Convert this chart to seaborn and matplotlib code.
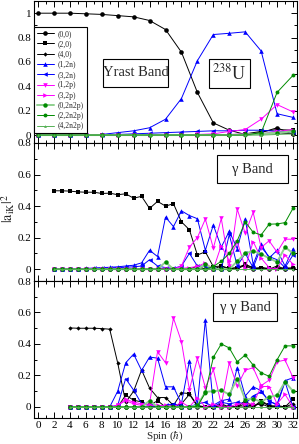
import numpy as np
import pandas as pd
import matplotlib
matplotlib.use("Agg")
import matplotlib.pyplot as plt
import seaborn as sns
from matplotlib.ticker import MultipleLocator, FuncFormatter
from matplotlib.patches import Rectangle

# ---------------- data ----------------
series_names = ["(0,0)", "(2,0)", "(4,0)", "(1,2n)", "(3,2n)",
                "(1,2p)", "(3,2p)", "(0,2n2p)", "(2,2n2p)", "(4,2n2p)"]

# Yrast band, spins 0..32 step 2
spin_yrast = list(range(0, 33, 2))
yr_00 = [1.0, 1.0, 1.0, 0.995, 0.99, 0.98, 0.97, 0.94, 0.866, 0.68, 0.35, 0.10, 0.04, 0.005, 0.02, 0.06, 0.005]
yr_20 = [0, 0, 0, 0, 0, 0, 0, 0, 0, 0, 0, 0, 0.0, 0.01, 0.03, 0.045, 0.04]
yr_40 = [0, 0, 0, 0, 0, 0, 0, 0, 0, 0, 0, 0, 0, 0.0, 0.01, 0.02, 0.01]
yr_12n = [0, 0, 0, 0.002, 0.005, 0.02, 0.035, 0.06, 0.13, 0.30, 0.61, 0.825, 0.835, 0.847, 0.69, 0.175, 0.145]
yr_32n = [0, 0, 0, 0, 0.002, 0.005, 0.01, 0.015, 0.02, 0.025, 0.03, 0.035, 0.035, 0.04, 0.04, 0.03, 0.025]
yr_12p = [0, 0, 0, 0, 0, 0, 0, 0, 0, 0, 0.005, 0.01, 0.03, 0.045, 0.13, 0.25, 0.19]
yr_32p = [0, 0, 0, 0, 0, 0, 0, 0, 0, 0, 0, 0, 0.005, 0.01, 0.01, 0.03, 0.045]
yr_02n2p = [0, 0, 0, 0, 0, 0, 0, 0, 0, 0, 0, 0, 0, 0.005, 0.01, 0.02, 0.03]
yr_22n2p = [0, 0, 0, 0, 0, 0, 0, 0, 0, 0, 0, 0, 0, 0, 0.02, 0.35, 0.49]
yr_42n2p = [0, 0, 0, 0, 0, 0, 0, 0, 0, 0, 0, 0, 0, 0, 0, 0.005, 0.01]

# gamma band, spins 2..32
spin_gamma = list(range(2, 33))
g_00 = [0]*22 + [0.0, 0.01, 0.02, 0.0, 0.01, 0.0, 0.005, 0.0, 0.01]
g_20 = [0.497, 0.497, 0.495, 0.49, 0.488, 0.488, 0.48, 0.482, 0.472, 0.478, 0.45, 0.462, 0.385,
        0.43, 0.40, 0.415, 0.30, 0.25, 0.09, 0.11, 0.016, 0.02, 0.005, 0.01, 0.03, 0.005, 0.01,
        0.005, 0.0, 0.01, 0.005]
g_40 = [0]*18 + [0.02, 0.0, 0.0, 0.02, 0.0, 0.0, 0.03, 0.01, 0.0, 0.0, 0.02, 0.0, 0.0]
g_12n = [0, 0, 0.002, 0.003, 0.005, 0.007, 0.01, 0.012, 0.015, 0.02, 0.025, 0.04, 0.12, 0.08,
         0.33, 0.27, 0.37, 0.34, 0.32, 0.12, 0.28, 0.14, 0.24, 0.13, 0.32, 0.03, 0.16, 0.07,
         0.12, 0.02, 0.13]
g_32n = [0, 0, 0, 0.002, 0.003, 0.005, 0.006, 0.008, 0.01, 0.012, 0.015, 0.02, 0.06, 0.02,
         0.01, 0.005, 0.02, 0.10, 0.02, 0.02, 0.0, 0.0, 0.22, 0.02, 0.10, 0.01, 0.14, 0.08,
         0.06, 0.01, 0.09]
g_12p = [0]*16 + [0.02, 0.14, 0.2, 0.318, 0.133, 0.322, 0.017, 0.38, 0.228, 0.36, 0.137,
                  0.18, 0.108, 0.19, 0.19]
g_32p = [0]*16 + [0.005, 0.01, 0.017, 0.04, 0.0, 0.15, 0.05, 0.175, 0.01, 0.175, 0.07,
                  0.01, 0.0, 0.09, 0.03]
g_02n2p = [0]*14 + [0.045, 0.0, 0.0, 0.0, 0.0, 0.03, 0.0, 0.0, 0.0, 0.05, 0.10, 0.116,
                    0.095, 0.07, 0.045, 0.14, 0.10]
g_22n2p = [0]*20 + [0.017, 0.05, 0.10, 0.18, 0.30, 0.234, 0.217, 0.285, 0.287, 0.295, 0.386]
g_42n2p = [0]*31

# gamma-gamma band, spins 4..32
spin_gg = list(range(4, 33))
gg_00 = [0]*22 + [0.0, 0.01, 0.02, 0.0, 0.01, 0.0, 0.0]
gg_20 = [0, 0, 0, 0, 0, 0, 0, 0.075, 0.043, 0.032, 0.01, 0.04, 0.0, 0.01, 0.02, 0.08, 0.005,
         0.0, 0.0, 0.01, 0.0, 0.0, 0.02, 0.0, 0.04, 0.01, 0.0, 0.0, 0.05]
gg_40 = [0.502, 0.5, 0.5, 0.5, 0.498, 0.494, 0.28, 0.03, 0.10, 0.235, 0.12, 0.06, 0.06, 0.01,
         0.09, 0.085, 0.01, 0.0, 0.0, 0.02, 0.0, 0.0, 0.04, 0.0, 0.03, 0.01, 0.0, 0.0, 0.02]
gg_12n = [0, 0, 0, 0, 0, 0, 0.10, 0.28, 0.336, 0.232, 0.317, 0.31, 0.128, 0.128, 0.021, 0.294,
          0.011, 0.553, 0.011, 0.04, 0.05, 0.25, 0.07, 0.128, 0.104, 0.034, 0.018, 0.168, 0.185]
gg_32n = [0, 0, 0, 0, 0, 0, 0.01, 0.18, 0.107, 0.02, 0.01, 0.0, 0.01, 0.02, 0.0, 0.0, 0.02,
          0.03, 0.0, 0.03, 0.02, 0.03, 0.02, 0.07, 0.096, 0.04, 0.01, 0.16, 0.0]
gg_12p = [0, 0, 0, 0, 0, 0, 0.01, 0.04, 0.02, 0.01, 0.02, 0.351, 0.281, 0.564, 0.415, 0.11,
          0.308, 0.123, 0.238, 0.015, 0.281, 0.132, 0.234, 0.249, 0.136, 0.17, 0.287, 0.298, 0.187]
gg_32p = [0, 0, 0, 0, 0, 0, 0.01, 0.05, 0.03, 0.02, 0.01, 0.01, 0.01, 0.0, 0.03, 0.0, 0.06,
          0.0, 0.02, 0.0, 0.0, 0.02, 0.02, 0.02, 0.13, 0.13, 0.02, 0.08, 0.0]
gg_02n2p = [0, 0, 0, 0, 0, 0, 0, 0, 0, 0, 0.04, 0.0, 0.0, 0.0, 0.0, 0.0, 0.01, 0.096, 0.10,
            0.105, 0.08, 0.18, 0.047, 0.053, 0.032, 0.064, 0.074, 0.16, 0.10]
gg_22n2p = [0]*16 + [0.004, 0.09, 0.315, 0.40, 0.375, 0.287, 0.33, 0.266, 0.217, 0.195, 0.30,
                     0.388, 0.388]
gg_42n2p = [0]*29

x_ticks = list(range(0, 33, 2))

panels = [
    (spin_yrast, [yr_00, yr_20, yr_40, yr_12n, yr_32n, yr_12p, yr_32p, yr_02n2p, yr_22n2p, yr_42n2p]),
    (spin_gamma, [g_00, g_20, g_40, g_12n, g_32n, g_12p, g_32p, g_02n2p, g_22n2p, g_42n2p]),
    (spin_gg, [gg_00, gg_20, gg_40, gg_12n, gg_32n, gg_12p, gg_32p, gg_02n2p, gg_22n2p, gg_42n2p]),
]

# ---------------- styling ----------------
sns.set_theme(style="ticks")
plt.rcParams["font.family"] = ["Liberation Serif", "DejaVu Serif"]
plt.rcParams["mathtext.fontset"] = "stix"

GREEN = "#008b00"
styles = {
    "(0,0)":    dict(color="black", marker="o", markersize=3.3),
    "(2,0)":    dict(color="black", marker="s", markersize=3.0),
    "(4,0)":    dict(color="black", marker="D", markersize=2.2),
    "(1,2n)":   dict(color="#0000ff", marker="^", markersize=3.3),
    "(3,2n)":   dict(color="#0000ff", marker="<", markersize=3.3),
    "(1,2p)":   dict(color="#ff00ff", marker="v", markersize=3.3),
    "(3,2p)":   dict(color="#ff00ff", marker=">", markersize=3.3),
    "(0,2n2p)": dict(color="#8fd08f", marker="o", markersize=3.2, mfc=GREEN),
    "(2,2n2p)": dict(color=GREEN, marker="o", markersize=2.8),
    "(4,2n2p)": dict(color="#55b055", marker="^", markersize=2.0),
}
linew = {"(0,2n2p)": 1.4}

W, H = 299, 444
fig = plt.figure(figsize=(W / 100, H / 100), dpi=100)
left, right = 34 / W, 297 / W
edges = [(1, 143), (143, 281), (281, 418)]
ylims = [(-0.065, 1.1), (-0.075, 0.8), (-0.07, 0.8)]
axes = []
for (t, b), yl in zip(edges, ylims):
    ax = fig.add_axes([left, 1 - b / H, right - left, (b - t) / H])
    axes.append(ax)

for i, (ax, (spins, vals)) in enumerate(zip(axes, panels)):
    for name, v in zip(series_names, vals):
        st = dict(styles[name])
        mfc = st.pop("mfc", st["color"])
        sns.lineplot(x=spins, y=v, ax=ax, linewidth=linew.get(name, 0.7),
                     markeredgecolor=mfc, markerfacecolor=mfc, markeredgewidth=0,
                     label=name if i == 0 else None, legend=False, **st)
    ax.set_xlim(-0.5, 32.5)
    ax.set_ylim(*ylims[i])
    ax.xaxis.set_major_locator(MultipleLocator(2))
    ax.xaxis.set_minor_locator(MultipleLocator(1))
    ax.yaxis.set_major_locator(MultipleLocator(0.2))
    ax.yaxis.set_minor_locator(MultipleLocator(0.1))
    ax.yaxis.set_major_formatter(FuncFormatter(lambda v, p: f"{v:g}"))
    ax.tick_params(which="both", direction="in", top=True, right=True,
                   width=0.7, colors="black", labelsize=8, pad=2)
    ax.tick_params(which="major", length=4.5)
    ax.tick_params(which="minor", length=2.3)
    for s in ax.spines.values():
        s.set_linewidth(0.8)
        s.set_color("black")
    ax.set_xlabel("")
    ax.set_ylabel("")
    if i < 2:
        ax.tick_params(labelbottom=False)
    else:
        ax.set_xticks(x_ticks)

# axis titles placed at the reference pixel positions
fig.text(165 / W, 1 - 436 / H, r"Spin ($\hbar$)", ha="center", va="center", fontsize=8)
fig.text(8.5 / W, 1 - 208 / H, r"$|\mathrm{a}_{\mathrm{iK}}|^2$", ha="center", va="center",
         rotation=90, fontsize=10)

handles, labels = axes[0].get_legend_handles_labels()
leg = axes[0].legend(handles, labels, loc="upper left",
                     bbox_to_anchor=(34 / W, 1 - 26.7 / H), bbox_transform=fig.transFigure,
                     borderaxespad=0, fontsize=5.5, handlelength=2.2, handletextpad=0.5,
                     labelspacing=0.3, borderpad=0.4, fancybox=False, framealpha=1,
                     edgecolor="black")
leg.get_frame().set_linewidth(0.8)

# annotation boxes (pixel geometry)
def box(x0, y0, x1, y1, text, fs):
    fig.add_artist(Rectangle((x0 / W, 1 - y1 / H), (x1 - x0) / W, (y1 - y0) / H,
                             transform=fig.transFigure, facecolor="white",
                             edgecolor="black", linewidth=0.8, zorder=5))
    fig.text((x0 + x1) / 2 / W, 1 - (y0 + y1) / 2 / H, text, ha="center", va="center",
             fontsize=fs, zorder=6)

box(103, 59, 168, 87, "Yrast Band", 10.5)
box(209, 59, 250, 88, r"$^{238}$U", 13)
box(217, 155, 288, 183, "γ Band", 10.5)
box(213, 293, 277, 321, "γ γ Band", 10.5)

fig.savefig("out.png", dpi=100)
